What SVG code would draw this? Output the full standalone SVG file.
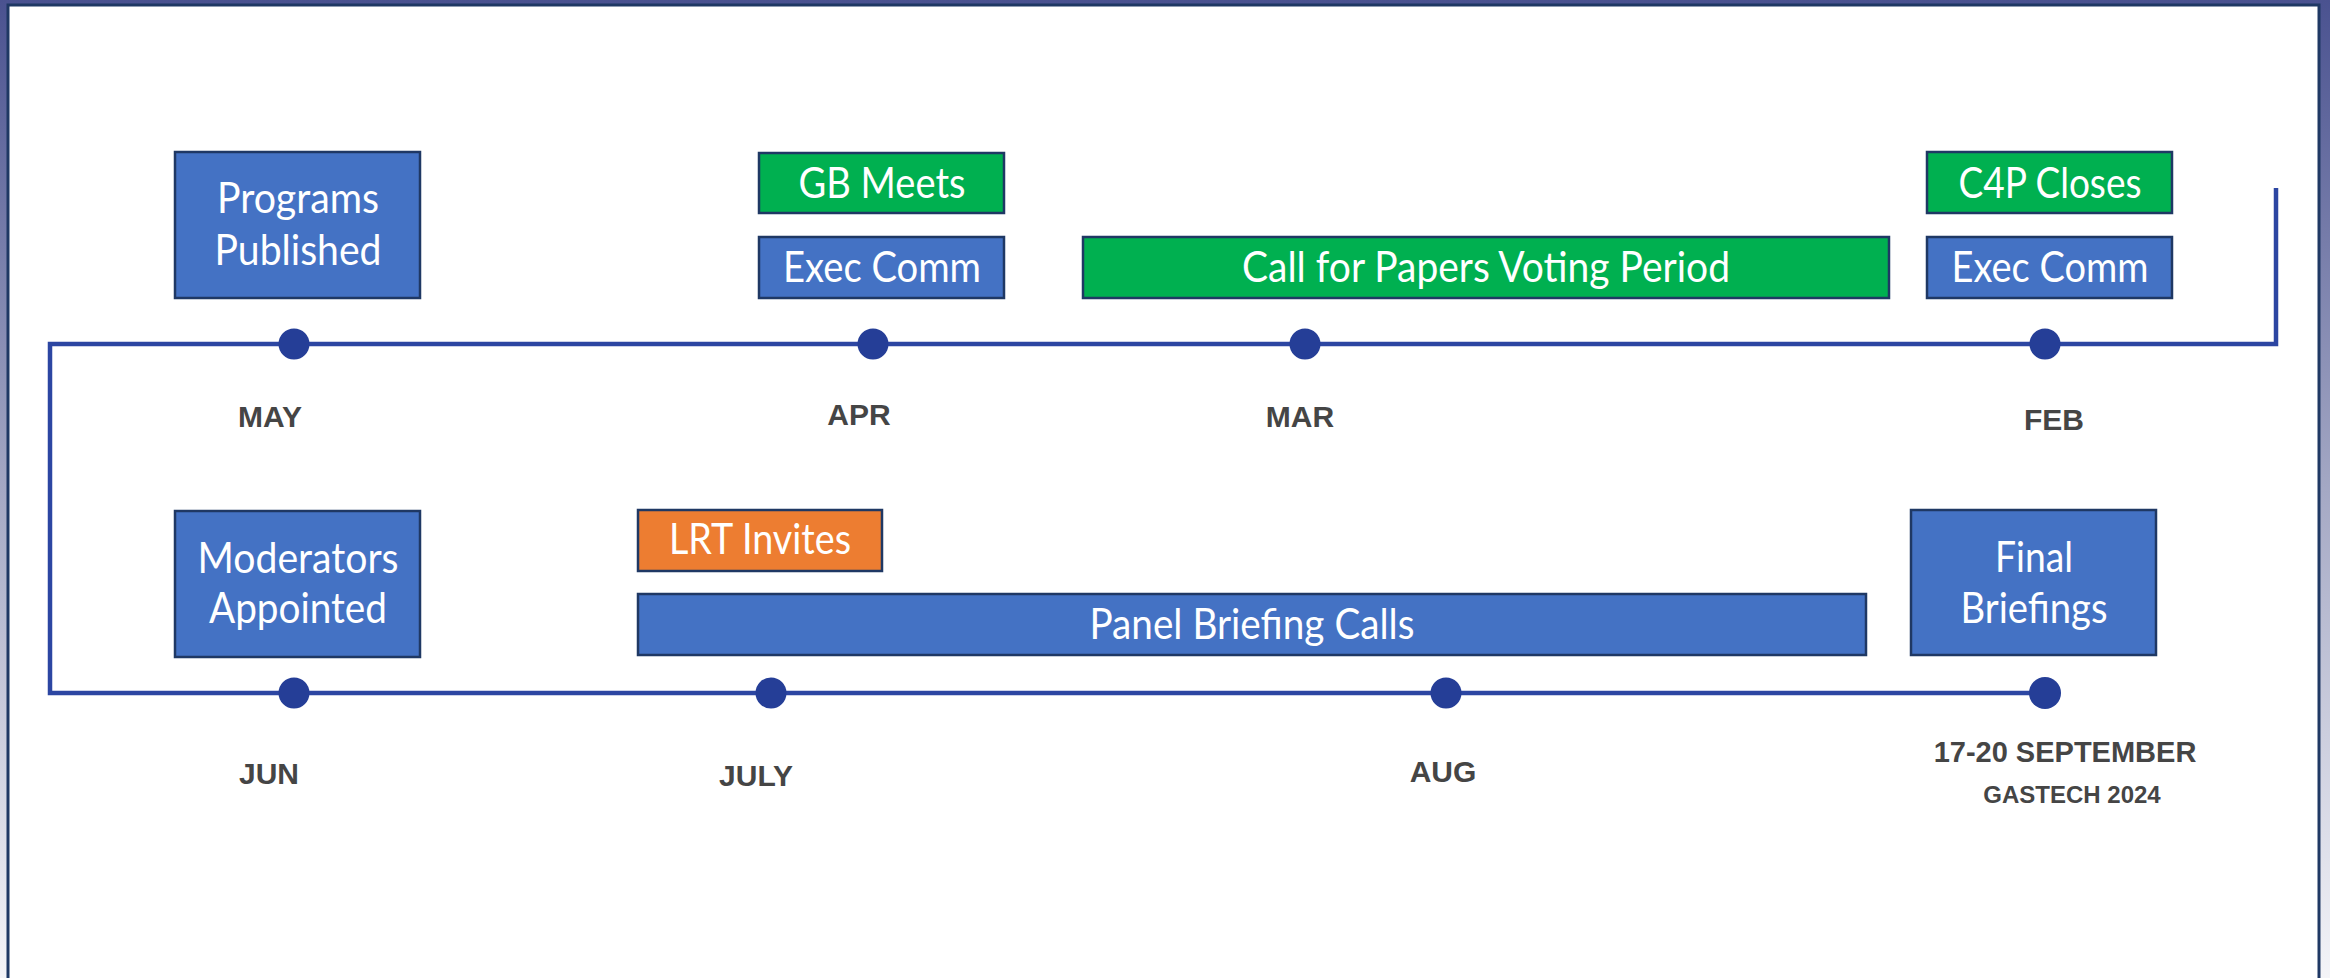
<svg xmlns="http://www.w3.org/2000/svg" width="2330" height="978" viewBox="0 0 2330 978">
  <defs>
    <linearGradient id="bg" x1="0" y1="0" x2="0" y2="1">
      <stop offset="0" stop-color="#4a5290"/>
      <stop offset="0.5" stop-color="#a4a8c4"/>
      <stop offset="1" stop-color="#f4f4f8"/>
    </linearGradient>
  </defs>
  <style>
    .box { stroke: #1f3864; stroke-width: 2.5; }
    .blue { fill: #4472c4; }
    .green { fill: #00b050; }
    .orange { fill: #ed7d31; }
    .bt { font-family: Lato, "Open Sans", sans-serif; font-size: 42px; fill: #ffffff; text-anchor: middle; }
    .month { font-family: "Liberation Sans", Arial, sans-serif; font-weight: bold; font-size: 30px; fill: #454545; text-anchor: middle; }
    .dot { fill: #253e97; }
    .line { fill: none; stroke: #2c46a2; stroke-width: 4.5; }
  </style>
  <rect x="0" y="0" width="2330" height="978" fill="url(#bg)"/>
  <rect x="8" y="5" width="2311" height="990" fill="#ffffff" stroke="#1f3864" stroke-width="3"/>

  <g id="connectors">
    <path class="line" d="M 2276 188 V 344 H 50 V 693 H 2045"/>
  </g>

  <g id="dots">
    <circle class="dot" cx="294" cy="344" r="15.5"/>
    <circle class="dot" cx="873" cy="344" r="15.5"/>
    <circle class="dot" cx="1305" cy="344" r="15.5"/>
    <circle class="dot" cx="2045" cy="344" r="15.5"/>
    <circle class="dot" cx="294" cy="693" r="15.5"/>
    <circle class="dot" cx="771" cy="693" r="15.5"/>
    <circle class="dot" cx="1446" cy="693" r="15.5"/>
    <circle class="dot" cx="2045" cy="693" r="16"/>
  </g>

  <g id="months">
    <text class="month" x="270" y="427">MAY</text>
    <text class="month" x="859" y="425">APR</text>
    <text class="month" x="1300" y="427">MAR</text>
    <text class="month" x="2054" y="430">FEB</text>
    <text class="month" x="269" y="784">JUN</text>
    <text class="month" x="756" y="786">JULY</text>
    <text class="month" x="1443" y="782">AUG</text>
    <text class="month" x="2065" y="762" style="font-size:29px">17-20 SEPTEMBER</text>
    <text class="month" x="2072" y="803" style="font-size:24px">GASTECH 2024</text>
  </g>

  <g id="programs-published">
    <rect class="box blue" x="175" y="152" width="245" height="146"/>
    <text class="bt" x="298" y="213" textLength="162" lengthAdjust="spacingAndGlyphs">Programs</text>
    <text class="bt" x="298" y="265" textLength="167" lengthAdjust="spacingAndGlyphs">Published</text>
  </g>
  <g id="gb-meets">
    <rect class="box green" x="759" y="153" width="245" height="60"/>
    <text class="bt" x="882" y="198" textLength="167" lengthAdjust="spacingAndGlyphs">GB Meets</text>
  </g>
  <g id="exec-comm-apr">
    <rect class="box blue" x="759" y="237" width="245" height="61"/>
    <text class="bt" x="882" y="282" textLength="198" lengthAdjust="spacingAndGlyphs">Exec Comm</text>
  </g>
  <g id="c4p-voting">
    <rect class="box green" x="1083" y="237" width="806" height="61"/>
    <text class="bt" x="1486" y="282" textLength="488" lengthAdjust="spacingAndGlyphs">Call for Papers Voting Period</text>
  </g>
  <g id="c4p-closes">
    <rect class="box green" x="1927" y="152" width="245" height="61"/>
    <text class="bt" x="2050" y="198" textLength="183" lengthAdjust="spacingAndGlyphs">C4P Closes</text>
  </g>
  <g id="exec-comm-feb">
    <rect class="box blue" x="1927" y="237" width="245" height="61"/>
    <text class="bt" x="2050" y="282" textLength="197" lengthAdjust="spacingAndGlyphs">Exec Comm</text>
  </g>
  <g id="moderators-appointed">
    <rect class="box blue" x="175" y="511" width="245" height="146"/>
    <text class="bt" x="298" y="573" textLength="201" lengthAdjust="spacingAndGlyphs">Moderators</text>
    <text class="bt" x="298" y="623" textLength="178" lengthAdjust="spacingAndGlyphs">Appointed</text>
  </g>
  <g id="lrt-invites">
    <rect class="box orange" x="638" y="510" width="244" height="61"/>
    <text class="bt" x="760" y="554" textLength="182" lengthAdjust="spacingAndGlyphs">LRT Invites</text>
  </g>
  <g id="panel-briefing-calls">
    <rect class="box blue" x="638" y="594" width="1228" height="61"/>
    <text class="bt" x="1252" y="639" textLength="325" lengthAdjust="spacingAndGlyphs">Panel Briefing Calls</text>
  </g>
  <g id="final-briefings">
    <rect class="box blue" x="1911" y="510" width="245" height="145"/>
    <text class="bt" x="2034" y="572" textLength="78" lengthAdjust="spacingAndGlyphs">Final</text>
    <text class="bt" x="2034" y="623" textLength="147" lengthAdjust="spacingAndGlyphs">Briefings</text>
  </g>
</svg>
